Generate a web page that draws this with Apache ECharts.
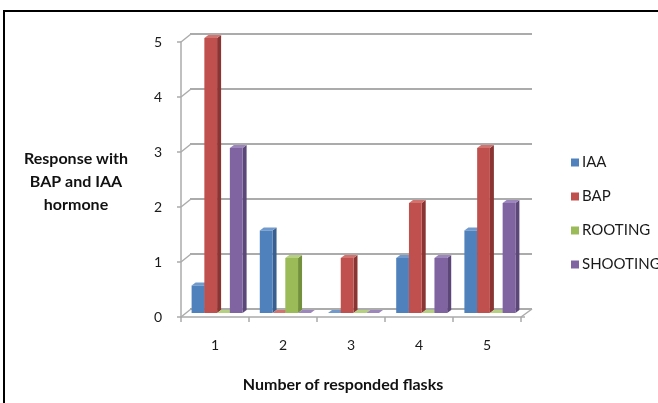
<!DOCTYPE html>
<html>
<head>
<meta charset="utf-8">
<script src="https://cdn.jsdelivr.net/npm/echarts@6/dist/echarts.min.js"></script>
<style>
  html, body { margin: 0; padding: 0; background: #fff; }
  #chart { width: 658px; height: 403px; }
</style>
</head>
<body>
<div id="chart"></div>
<script>
// Flask counts per hormone response
const categories = ['1', '2', '3', '4', '5'];
const iaa = [0.5, 1.5, 0, 1, 1.5];
const bap = [5, 0, 1, 2, 3];
const rooting = [0, 1, 0, 0, 0];
const shooting = [3, 0, 0, 1, 2];
const yTicks = [0, 1, 2, 3, 4, 5];

const seriesDefs = [
  { name: 'IAA', data: iaa, front: '#4F81BD', side: '#385F8F', top: '#7199CB' },
  { name: 'BAP', data: bap, front: '#C0504D', side: '#8A3533', top: '#D2736F' },
  { name: 'ROOTING', data: rooting, front: '#9BBB59', side: '#73903C', top: '#B5D07F' },
  { name: 'SHOOTING', data: shooting, front: '#8064A2', side: '#5C4779', top: '#9C86BC' }
];

const BAR_W = 12.75;   // width of one column face
const DEPTH = [4, 3];  // column depth offset (right, up)
const WALL = [10, 8];  // offset from front axis to back wall
const gridColor = '#ABABAB';
const FONT = 'Lato, "Open Sans", sans-serif';

// 3D-look column: front face, right side face and top face
function columnRenderer(idx, def) {
  return function (params, api) {
    const cat = api.value(0);
    const val = api.value(1);
    const base = api.coord([cat, 0]);
    const top = api.coord([cat, val]);
    const n = seriesDefs.length;
    const x0 = base[0] - (n * BAR_W) / 2 + idx * BAR_W;
    const x1 = x0 + BAR_W;
    const yb = base[1];
    const yt = top[1];
    const dx = DEPTH[0], dy = DEPTH[1];
    return {
      type: 'group',
      children: [
        {
          type: 'polygon',
          shape: { points: [[x1, yt], [x1 + dx, yt - dy], [x1 + dx, yb - dy], [x1, yb]] },
          style: { fill: def.side }
        },
        {
          type: 'polygon',
          shape: { points: [[x0, yt], [x0 + dx, yt - dy], [x1 + dx, yt - dy], [x1, yt]] },
          style: { fill: def.top }
        },
        {
          type: 'rect',
          shape: { x: x0, y: yt, width: BAR_W, height: Math.max(0, yb - yt) },
          style: { fill: def.front }
        }
      ]
    };
  };
}

// Side wall lines from the front value axis to the back wall, plus floor edge
function wallRenderer(params, api) {
  const v = api.value(0);
  const p = api.coord([0, v]);
  const cs = params.coordSys;
  const children = [{
    type: 'line',
    shape: { x1: cs.x, y1: p[1], x2: cs.x + WALL[0], y2: p[1] - WALL[1] },
    style: { stroke: gridColor, lineWidth: 1.5 }
  }];
  if (v === 0) {
    children.push({
      type: 'line',
      shape: { x1: cs.x + cs.width, y1: p[1], x2: cs.x + cs.width + 11, y2: p[1] - WALL[1] },
      style: { stroke: gridColor, lineWidth: 1.5 }
    });
    children.push({
      type: 'line',
      shape: { x1: cs.x + cs.width, y1: p[1], x2: cs.x + cs.width + 4, y2: p[1] },
      style: { stroke: gridColor, lineWidth: 1.5 }
    });
  }
  return { type: 'group', children: children };
}

const chart = echarts.init(document.getElementById('chart'), null, { renderer: 'canvas' });

const series = seriesDefs.map(function (def, i) {
  return {
    name: def.name,
    type: 'custom',
    xAxisIndex: 2,
    yAxisIndex: 2,
    itemStyle: { color: def.front },
    renderItem: columnRenderer(i, def),
    data: def.data.map(function (v, c) { return [c, v]; }),
    z: 5
  };
});

series.push({
  name: 'wall',
  type: 'custom',
  xAxisIndex: 1,
  yAxisIndex: 1,
  renderItem: wallRenderer,
  data: yTicks.map(function (v) { return [v]; }),
  encode: { y: 0 },
  silent: true,
  z: 1
});

const option = {
  animation: false,
  backgroundColor: '#ffffff',
  textStyle: { fontFamily: FONT },
  grid: [
    // back wall
    { left: 190, top: 34, width: 342, height: 275 },
    // front axes
    { left: 181, top: 42, width: 340, height: 275 },
    // columns, mid depth
    { left: 183, top: 38, width: 341, height: 275 }
  ],
  xAxis: [
    { gridIndex: 0, type: 'category', data: categories, show: false },
    {
      gridIndex: 1, type: 'category', data: categories,
      axisLine: { show: true, lineStyle: { color: gridColor, width: 1.5 } },
      axisTick: { show: true, length: 5, lineStyle: { color: gridColor, width: 1.5 } },
      axisLabel: { margin: 21, fontSize: 14, color: '#1a1a1a', fontFamily: FONT }
    },
    { gridIndex: 2, type: 'category', data: categories, show: false }
  ],
  yAxis: [
    {
      gridIndex: 0, type: 'value', min: 0, max: 5, interval: 1,
      axisLine: { show: false }, axisTick: { show: false }, axisLabel: { show: false },
      splitLine: { show: true, lineStyle: { color: gridColor, width: 2 } }
    },
    {
      gridIndex: 1, type: 'value', min: 0, max: 5, interval: 1,
      axisLine: { show: true, lineStyle: { color: gridColor, width: 1.5 } },
      axisTick: { show: true, length: 4, lineStyle: { color: gridColor, width: 1.5 } },
      axisLabel: { margin: 19, fontSize: 14, color: '#1a1a1a', fontFamily: FONT },
      splitLine: { show: false }
    },
    { gridIndex: 2, type: 'value', min: 0, max: 5, interval: 1, show: false, splitLine: { show: false } }
  ],
  legend: {
    orient: 'vertical',
    left: 566,
    top: 150,
    itemWidth: 8,
    itemHeight: 8,
    itemGap: 19,
    icon: 'rect',
    data: ['IAA', 'BAP', 'ROOTING', 'SHOOTING'],
    textStyle: { fontSize: 15, color: '#1a1a1a', padding: [0, 0, 0, -2], fontFamily: FONT }
  },
  graphic: [
    {
      type: 'rect',
      shape: { x: 4, y: 11, width: 700, height: 500 },
      style: { fill: 'none', stroke: '#000', lineWidth: 2 },
      silent: true
    },
    {
      type: 'text',
      style: {
        text: 'Response with\nBAP and IAA\nhormone',
        x: 76, y: 147,
        textAlign: 'center',
        fontSize: 16,
        fontWeight: 'bold',
        lineHeight: 23,
        fill: '#111',
        fontFamily: FONT
      }
    },
    {
      type: 'text',
      style: {
        text: 'Number of responded flasks',
        x: 343, y: 377,
        textAlign: 'center',
        fontSize: 16,
        fontWeight: 'bold',
        fill: '#111',
        fontFamily: FONT
      }
    }
  ],
  series: series
};

chart.setOption(option);
</script>
</body>
</html>
